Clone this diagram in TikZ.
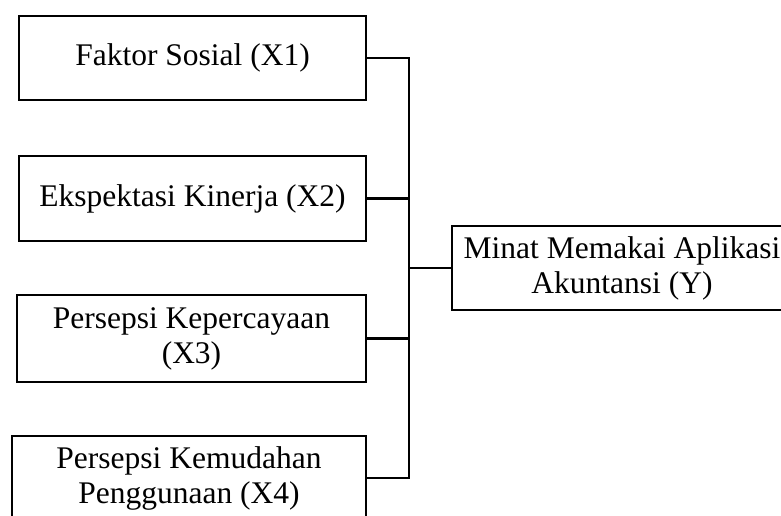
\documentclass[tikz,border=0pt]{standalone}
\usepackage{fontspec}
\setmainfont{Liberation Serif}
\begin{document}
\begin{tikzpicture}[x=1pt,y=-1pt,
  box/.style={draw=black,line width=2.6pt,rectangle,inner sep=0pt,align=center,
    font=\fontsize{31.5}{35}\selectfont},
  link/.style={draw=black,line width=2.6pt}]
\useasboundingbox (0,0) rectangle (781,516);
\clip (0,0) rectangle (781,516);
\node[box,minimum width=347pt,minimum height=84pt] (b1) at (192.5,58) {Faktor Sosial (X1)};
\node[box,minimum width=347pt,minimum height=85pt] (b2) at (192.5,198.5) {Ekspektasi Kinerja (X2)};
\node[box,minimum width=349pt,minimum height=87pt] (b3) at (191.5,338.5) {Persepsi Kepercayaan\\(X3)};
\node[box,minimum width=354pt,minimum height=84pt] (b4) at (189,478) {Persepsi Kemudahan\\Penggunaan (X4)};
\node[box,minimum width=340pt,minimum height=84pt] (y) at (622,268) {Minat Memakai Aplikasi\\Akuntansi (Y)};
\coordinate (s1) at (409,58);
\coordinate (s4) at (409,478);
\draw[link] (b1.east) -- (s1) -- (s4) -- (b4.east);
\draw[link] (b2.east) -- (b2.east -| s1);
\draw[link] (b3.east) -- (b3.east -| s1);
\draw[link] (y.west) -- (y.west -| s1);
\end{tikzpicture}
\end{document}
